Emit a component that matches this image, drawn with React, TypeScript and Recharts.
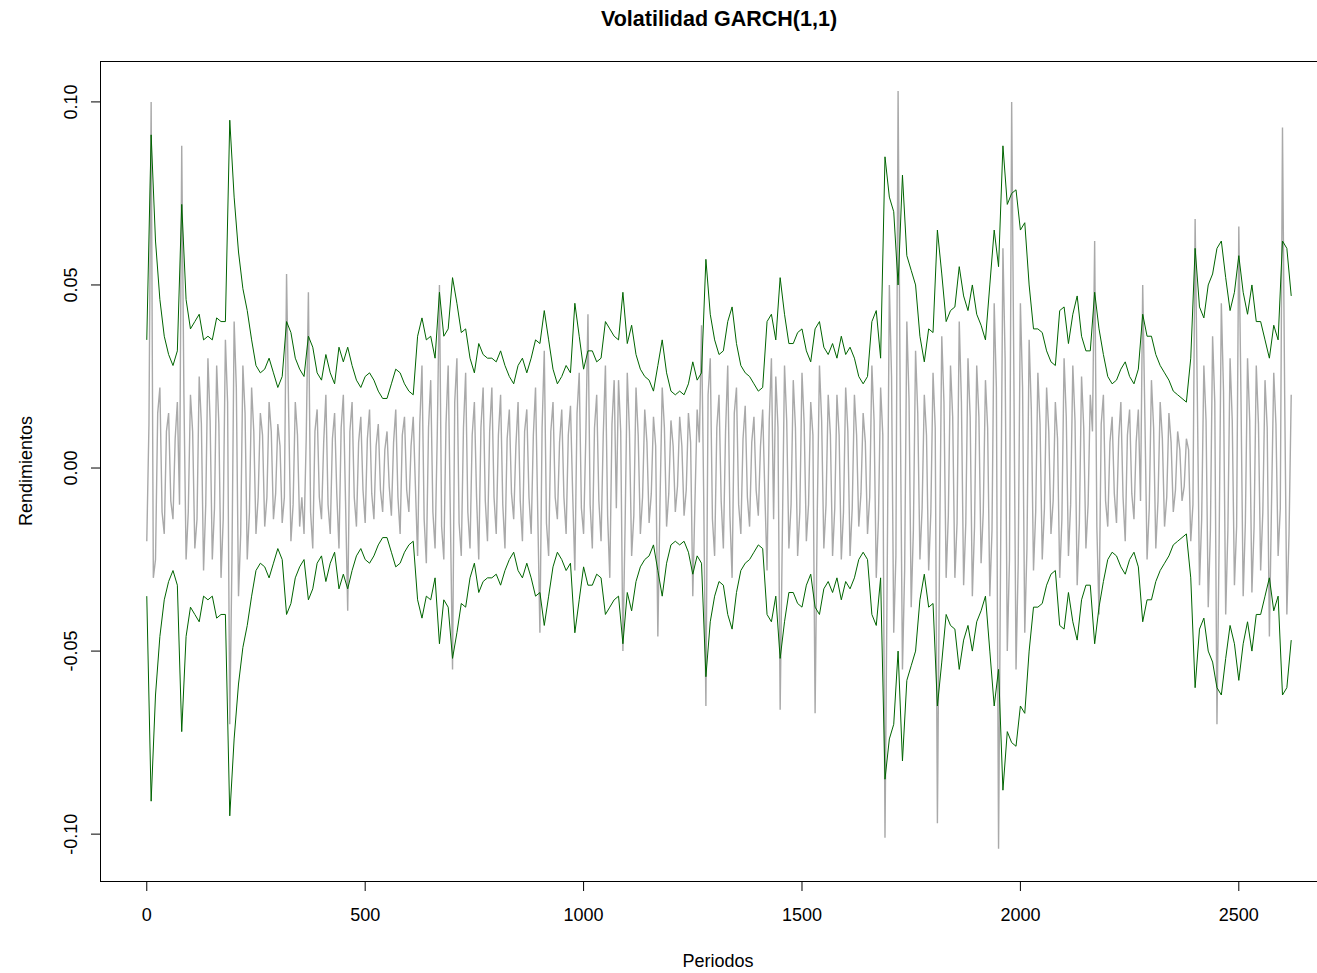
import { LineChart, Line, XAxis, YAxis } from 'recharts';

// banda GARCH (±), milésimas, cada 10 periodos (t = 0, 10, 20, ...)
const sigma = [
  35,91,62,46,36,31,28,32,72,46,
  38,40,42,35,36,35,41,40,40,95,
  74,59,49,43,35,28,26,27,30,26,
  22,25,40,37,30,27,25,36,33,26,
  24,31,26,23,33,29,33,28,24,22,
  25,26,24,21,19,19,23,27,26,23,
  21,20,36,41,35,36,30,48,36,38,
  52,45,37,38,30,26,34,31,30,30,
  29,32,28,25,23,28,30,26,30,35,
  34,43,35,27,23,25,28,26,45,36,
  27,32,32,29,30,40,38,36,35,48,
  34,39,31,27,25,24,21,28,35,26,
  21,20,21,20,23,29,24,26,57,42,
  35,31,32,40,44,34,28,26,25,23,
  21,22,40,42,35,52,42,34,34,37,
  38,32,29,38,40,33,31,34,30,36,
  31,33,30,25,23,25,40,43,30,85,
  74,70,50,80,58,54,50,36,29,38,
  37,65,53,40,43,44,55,47,43,50,
  42,39,35,50,65,55,88,72,75,76,
  65,67,50,38,38,37,32,29,28,43,
  44,34,42,47,36,32,32,48,38,31,
  25,23,24,27,29,25,23,27,42,36,
  36,31,28,26,24,21,20,19,18,30,
  60,44,41,50,53,60,62,52,43,48,
  58,48,42,50,40,40,35,30,39,35,
  62,60,47,
];

// rendimientos, milésimas, t = 0, 10, 20, ...
const rendimientos = [
  -20,100,-25,22,-18,15,-14,18,88,-25,
  20,-22,25,-28,30,-25,28,-30,35,-70,
  40,-35,28,-25,22,-18,15,-16,18,-14,
  12,-15,53,-20,18,-16,-18,48,-22,16,
  -14,20,-18,15,-22,20,-39,18,-16,14,
  -15,16,-14,12,-12,10,-13,16,-18,14,
  -12,14,-24,28,-26,24,-22,50,-25,28,
  -55,30,-24,26,-22,18,-25,22,-20,22,
  -18,20,-22,16,-14,18,-20,16,-18,22,
  -45,32,-24,18,-14,16,-18,17,-28,26,
  -18,42,-22,20,-20,28,-30,24,24,-50,
  26,-24,22,-18,16,-15,14,-46,22,-16,
  13,-12,14,-13,15,-35,16,39,-65,30,
  -24,20,-22,28,-30,22,-18,17,-16,14,
  -13,16,-28,30,25,-66,28,-22,24,-24,
  26,-20,18,-67,28,-22,20,-24,20,-25,
  22,-24,20,-16,15,-18,28,-30,22,-101,
  50,-45,103,-55,40,-38,32,-25,20,-28,
  26,-97,36,-30,28,-30,40,-32,30,-35,
  28,-26,24,-35,45,-104,60,-50,100,-55,
  45,-45,35,-28,26,-25,22,-18,18,-30,
  30,-24,28,-32,25,-22,20,62,-40,20,
  -16,14,-15,18,-20,16,-14,16,50,-25,
  24,-22,18,-16,15,-12,10,-9,8,-20,
  68,-32,28,-38,36,-70,45,-40,30,-32,
  66,-35,30,-34,28,-28,24,-46,26,-24,
  93,-40,20,
];

// rendimientos, milésimas, t = 5, 15, 25, ...
const rendimientosIntermedios = [
  12,-30,15,-12,10,-9,8,-10,20,-12,
  10,-14,12,-10,13,-11,12,-14,18,-25,
  22,-18,15,-12,10,-8,9,-8,10,-7,
  6,-8,14,-10,9,-8,8,-12,10,-8,
  7,-10,8,-7,11,-9,10,-8,7,-6,
  8,-7,6,-6,5,-5,7,-8,9,-6,
  6,-5,12,-14,11,-12,9,-16,12,-13,
  18,-15,11,-12,9,-8,11,-9,10,-8,
  9,-10,8,-7,6,-9,10,-8,9,-12,
  11,-15,10,-8,7,-8,9,-7,15,-11,
  8,-10,11,-9,9,-13,12,-11,10,-16,
  10,-13,9,-8,7,-7,6,-9,11,-7,
  6,-5,6,-6,7,-9,7,-8,20,-14,
  11,-9,10,-13,15,-10,8,-8,7,-6,
  6,-7,13,-14,11,-18,13,-10,11,-12,
  12,-10,9,-12,13,-10,9,-11,9,-12,
  10,-11,9,-7,7,-8,13,-14,9,-30,
  25,-24,16,-28,19,-17,15,-11,9,-12,
  11,-22,18,-13,14,-15,18,-15,14,-16,
  14,-12,11,-17,22,-18,30,-25,26,-26,
  22,-22,16,-12,12,-11,10,-9,8,-14,
  14,-10,13,-15,11,-10,10,-16,12,-9,
  7,-7,8,-8,9,-7,7,-9,14,-11,
  11,-9,8,-8,7,-6,5,-5,5,-10,
  20,-14,13,-17,18,-20,21,-17,13,-16,
  19,-15,13,-16,12,-12,11,-9,12,-11,
  20,-18,
];

const xTicks = [0, 500, 1000, 1500, 2000, 2500];
const yTicks = [-0.1, -0.05, 0, 0.05, 0.1];

const data: any[] = [];
sigma.forEach((s, i) => {
  data.push({ t: i * 10, ret: rendimientos[i] / 1000, up: s / 1000, lo: -s / 1000 });
  if (i < rendimientosIntermedios.length) {
    data.push({ t: i * 10 + 5, ret: rendimientosIntermedios[i] / 1000 });
  }
});

const font = '"Liberation Sans", Arial, sans-serif';

const YTick = (props: any) => {
  const { x, y, payload } = props;
  return (
    <text x={x} y={y} transform={`rotate(-90 ${x} ${y})`} textAnchor="middle"
      fontSize={18} fill="#000" fontFamily={font}>
      {payload.value.toFixed(2)}
    </text>
  );
};

export default function App() {
  return (
    <div style={{ position: 'absolute', left: 0, top: 0, width: 1317, height: 973, overflow: 'hidden', background: '#fff', fontFamily: font }}>
      <div style={{ position: 'absolute', left: 719, top: 7, transform: 'translateX(-50%)', fontWeight: 'bold', fontSize: 21.5, whiteSpace: 'nowrap' }}>
        Volatilidad GARCH(1,1)
      </div>
      <LineChart width={1345} height={973} data={data} margin={{ top: 62, right: 8, bottom: 32, left: 41 }}>
        <XAxis dataKey="t" type="number" domain={[-104.8, 2724.8]} allowDataOverflow ticks={xTicks}
          axisLine={false} tickSize={10} tickMargin={17} height={60}
          tick={{ fontSize: 18, fill: '#000', fontFamily: font }} tickLine={{ stroke: '#000' }} />
        <YAxis type="number" domain={[-0.1128, 0.1109]} allowDataOverflow ticks={yTicks} width={60}
          axisLine={false} tickSize={10} tickMargin={14} tick={YTick} tickLine={{ stroke: '#000' }} />
        <Line dataKey="ret" stroke="#a9a9a9" strokeWidth={1.4} dot={false} activeDot={false} isAnimationActive={false} />
        <Line dataKey="up" stroke="#006400" strokeWidth={1} dot={false} activeDot={false} connectNulls isAnimationActive={false} />
        <Line dataKey="lo" stroke="#006400" strokeWidth={1} dot={false} activeDot={false} connectNulls isAnimationActive={false} />
      </LineChart>
      <div style={{ position: 'absolute', left: 100, top: 61, width: 1240, height: 821, border: '1px solid #000', boxSizing: 'border-box', pointerEvents: 'none' }} />
      <div style={{ position: 'absolute', left: 718, top: 951, transform: 'translateX(-50%)', fontSize: 18, whiteSpace: 'nowrap' }}>
        Periodos
      </div>
      <div style={{ position: 'absolute', left: 26, top: 471, transform: 'translate(-50%, -50%) rotate(-90deg)', fontSize: 18, whiteSpace: 'nowrap' }}>
        Rendimientos
      </div>
    </div>
  );
}
